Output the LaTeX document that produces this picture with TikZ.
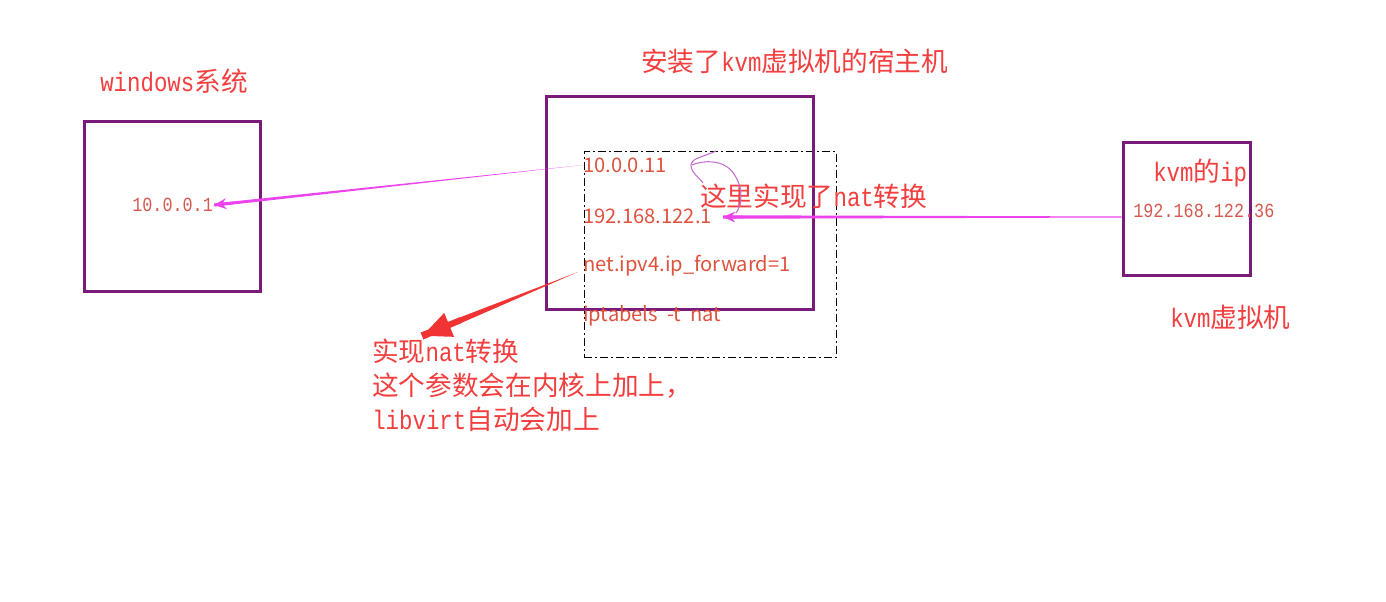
\documentclass[tikz,border=0pt]{standalone}
\usepackage{fontspec}
\usetikzlibrary{arrows.meta, positioning, calc}
\newfontfamily\cjk{Noto Sans CJK SC}
\newfontfamily\monof[FakeStretch=0.84]{Liberation Mono}
\newcommand{\zh}[1]{{\cjk #1}}
\newcommand{\fsz}[1]{\fontsize{#1}{1.3\dimexpr#1\relax}\selectfont}
\definecolor{boxpurple}{RGB}{122, 26, 122}
\definecolor{notered}{RGB}{242, 62, 62}
\definecolor{ipred}{RGB}{222, 82, 62}
\definecolor{smallred}{RGB}{214, 88, 78}
\definecolor{linkmag}{RGB}{236, 68, 236}
\definecolor{arrowred}{RGB}{240, 52, 52}
\definecolor{scribble}{RGB}{196, 110, 210}

\begin{document}
\begin{tikzpicture}[x=0.75pt, y=-0.75pt,
  pcbox/.style={draw=boxpurple, line width=2.25pt, inner sep=0pt},
  natbox/.style={draw=black, line width=0.75pt, inner sep=0pt,
    dash pattern=on 6pt off 2.5pt on 1pt off 2.5pt},
  note/.style={text=notered, anchor=west, inner sep=0pt, font=\monof\fsz{20pt}},
  hostip/.style={text=ipred, anchor=west, inner sep=0pt, font=\cjk\fsz{15.1pt}},
  smallip/.style={text=smallred, anchor=west, inner sep=0pt, font=\monof\fsz{15pt}},
  maglink/.style={fill=linkmag},
  magtip/.style={draw=linkmag, line width=2pt, -{Stealth[length=9pt, width=8pt]}}
  ]
  \useasboundingbox (0,0) rectangle (1386,602);

  % boxes
  \node[natbox, minimum width=189pt, minimum height=154.5pt] (natt) at (710,255) {};
  \node[pcbox, minimum width=132pt, minimum height=127.5pt] (winbox) at (172,207) {};
  \node[pcbox, minimum width=200.25pt, minimum height=159.75pt] (hostbox) at (679.5,203.5) {};
  \node[pcbox, minimum width=95.25pt, minimum height=99.75pt] (kvmbox) at (1186.5,209.5) {};

  % titles
  \node[note] (wintitle) at (100,81) {windows\zh{系统}};
  \node[note] (hosttitle) at (641,61) {\zh{安装了}kvm\zh{虚拟机的宿主机}};
  \node[note] (kvmtitle) at (1153,173) {kvm\zh{的}ip};
  \node[note] (kvmname) at (1170,317) {kvm\zh{虚拟机}};

  % addresses
  \node[smallip] (winip) at (132,205) {10.0.0.1};
  \node[smallip] (kvmip) at (1133,211) {192.168.122.36};
  \node[hostip] (ip11) at (583,165) {10.0.0.11};
  \node[hostip] (ip1) at (583,216) {192.168.122.1};
  \node[hostip] (fwd) at (583,266) {net.ipv4.ip\_forward=1};
  \node[hostip] (ipt) at (583,316) {iptabels~~-t~~nat};

  % notes
  \node[note] (natlabel) at (700,196) {\zh{这里实现了}nat\zh{转换}};
  \node[note, align=left, font=\monof\fontsize{20pt}{25.5pt}\selectfont] (natnote) at (372,385)
    {\zh{实现}nat\zh{转换}\\ \zh{这个参数会在内核上加上，}\\ libvirt\zh{自动会加上}};

  \coordinate (wintip) at ($(winip.east)+(1,0)$);
  \coordinate (ip1tip) at ($(ip1.east)+(11,1)$);
  \coordinate (kvmstart) at ($(kvmbox.west |- ip1)+(0,1)$);
  \coordinate (fwdstart) at ($(fwd.west)+(-5,6)$);
  \coordinate (nattip) at (422,336);

  % links
  \fill[maglink] (ip11.west) -- ($(wintip)!1.2pt!90:(ip11.west)$) -- ($(wintip)!1.2pt!-90:(ip11.west)$) -- cycle;
  \draw[magtip] ($(wintip)!0.05!(ip11.west)$) -- (wintip);
  \fill[maglink] ($(kvmstart)!0.4pt!90:(ip1tip)$) -- ($(ip1tip)!1.3pt!-90:(kvmstart)$)
    -- ($(ip1tip)!1.3pt!90:(kvmstart)$) -- ($(kvmstart)!0.4pt!-90:(ip1tip)$) -- cycle;
  \draw[magtip] ($(ip1tip)!0.05!(kvmstart)$) -- (ip1tip);
  \fill[arrowred] (fwdstart) -- ($(nattip)!2.8pt!90:(fwdstart)$) -- ($(nattip)!2.8pt!-90:(fwdstart)$) -- cycle;
  \draw[arrowred, line width=4.5pt, -{Triangle[length=22pt, width=18pt]}] ($(nattip)!0.25!(fwdstart)$) -- (nattip);

  % hand drawn mark
  \draw[scribble, line width=0.8pt] (716,151) .. controls (704,157) and (690,158) .. (691,166)
    .. controls (692,174) and (700,178) .. (703,183);
  \draw[scribble, line width=0.8pt] (692,165) .. controls (704,160) and (724,159) .. (734,174)
    .. controls (744,189) and (742,205) .. (736,213);
\end{tikzpicture}
\end{document}
